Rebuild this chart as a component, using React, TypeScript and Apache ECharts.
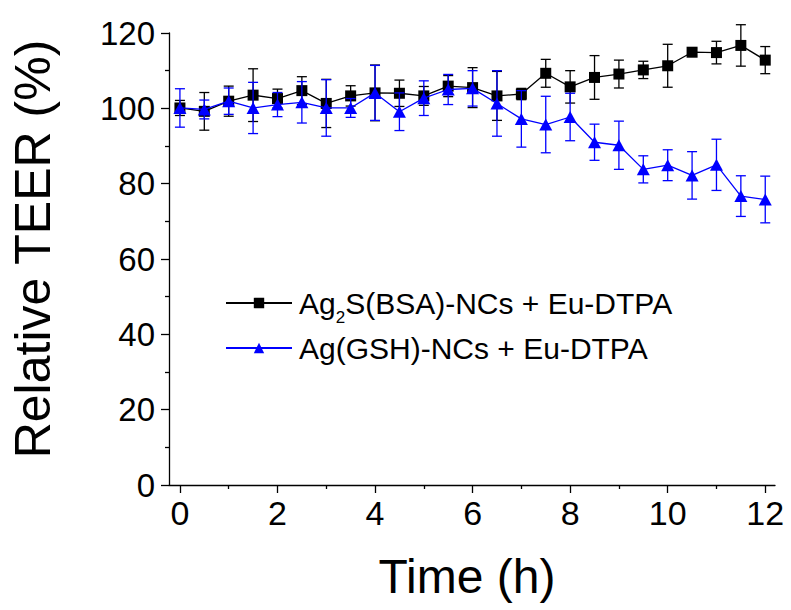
import React, { useEffect, useRef } from 'react';
import * as echarts from 'echarts';

// Time points (h)
const times = [0, 0.5, 1, 1.5, 2, 2.5, 3, 3.5, 4, 4.5, 5, 5.5, 6, 6.5, 7, 7.5, 8, 8.5, 9, 9.5, 10, 10.5, 11, 11.5, 12];

// Ag2S(BSA)-NCs + Eu-DTPA : relative TEER (%) and error
const bsaMean = [100.1, 99.2, 101.9, 103.5, 102.6, 104.7, 101.3, 103.3, 104.1, 104.0, 103.3, 105.9, 105.5, 103.3, 103.8, 109.3, 105.7, 108.2, 109.1, 110.2, 111.3, 114.9, 114.8, 116.7, 112.8];
const bsaErr = [2.0, 5.0, 4.0, 7.0, 2.5, 3.7, 6.4, 2.7, 7.4, 3.5, 2.5, 2.8, 5.3, 6.5, 1.5, 3.7, 4.3, 5.8, 3.7, 2.3, 5.7, 1.0, 3.0, 5.5, 3.6];

// Ag(GSH)-NCs + Eu-DTPA : relative TEER (%) and error
const gshMean = [100.1, 99.7, 101.9, 100.1, 101.0, 101.6, 100.1, 100.1, 104.1, 99.1, 102.7, 105.0, 105.3, 101.3, 97.2, 95.7, 97.7, 91.0, 90.2, 83.8, 84.9, 82.2, 85.0, 76.7, 75.8];
const gshErr = [5.1, 2.5, 3.5, 6.8, 3.2, 5.5, 7.5, 2.5, 7.3, 5.0, 4.6, 4.0, 4.7, 8.7, 7.5, 7.5, 6.3, 4.8, 6.4, 3.6, 4.1, 6.3, 6.8, 5.4, 6.2];

// Axis ticks
const xMajorTicks = [0, 2, 4, 6, 8, 10, 12];
const xMinorTicks = [1, 3, 5, 7, 9, 11];

const seriesNames = ['Ag2S(BSA)-NCs + Eu-DTPA', 'Ag(GSH)-NCs + Eu-DTPA'];
const BLACK = '#000000';
const BLUE = '#0000ff';
const FONT = '"Liberation Sans", Arial, sans-serif';

function errorBarRenderer(color: string) {
  return (_params: any, api: any) => {
    const x = api.value(0);
    const lo = api.coord([x, api.value(1)]);
    const hi = api.coord([x, api.value(2)]);
    const w = 5;
    const style = { stroke: color, lineWidth: 1.3, fill: 'none' };
    return {
      type: 'group',
      children: [
        { type: 'line', shape: { x1: lo[0], y1: lo[1], x2: hi[0], y2: hi[1] }, style },
        { type: 'line', shape: { x1: hi[0] - w, y1: hi[1], x2: hi[0] + w, y2: hi[1] }, style },
        { type: 'line', shape: { x1: lo[0] - w, y1: lo[1], x2: lo[0] + w, y2: lo[1] }, style },
      ],
    };
  };
}

export default function App() {
  const ref = useRef<HTMLDivElement>(null);

  useEffect(() => {
    if (!ref.current) return;
    const chart = echarts.init(ref.current, null, { renderer: 'svg' });

    const bsaLine = times.map((t, i) => [t, bsaMean[i]]);
    const gshLine = times.map((t, i) => [t, gshMean[i]]);
    const bsaBars = times.map((t, i) => [t, bsaMean[i] - bsaErr[i], bsaMean[i] + bsaErr[i]]);
    const gshBars = times.map((t, i) => [t, gshMean[i] - gshErr[i], gshMean[i] + gshErr[i]]);

    const legendCommon = {
      orient: 'vertical',
      left: 220,
      itemWidth: 66,
      itemHeight: 13,
      selectedMode: false,
      textStyle: {
        fontFamily: FONT,
        fontSize: 30,
        lineHeight: 34,
        color: '#000',
        padding: [0, 0, 0, 2],
        rich: {
          sub: { fontFamily: FONT, fontSize: 17, lineHeight: 17, padding: [29, 0, 0, 0], color: '#000' },
        },
      },
    };

    chart.setOption({
      animation: false,
      backgroundColor: '#ffffff',
      grid: { left: 165, right: 16, top: 33, bottom: 125, containLabel: false },
      legend: [
        {
          ...legendCommon,
          top: 275,
          data: [seriesNames[0]],
          formatter: () => 'Ag{sub|2}S(BSA)-NCs + Eu-DTPA',
        },
        {
          ...legendCommon,
          top: 326,
          data: [seriesNames[1]],
        },
      ],
      xAxis: [
        {
          type: 'value',
          min: -0.224,
          max: 12.2,
          position: 'bottom',
          name: 'Time (h)',
          nameLocation: 'middle',
          nameGap: 67,
          nameTextStyle: { fontFamily: FONT, fontSize: 48, color: '#000', padding: [0, 10, 0, 0] },
          axisLine: { show: true, onZero: false, lineStyle: { color: '#000', width: 1.3 } },
          axisTick: { show: true, inside: false, length: 8, customValues: xMajorTicks, lineStyle: { color: '#000', width: 1.3 } },
          axisLabel: { show: true, customValues: xMajorTicks, margin: 11, fontFamily: FONT, fontSize: 34, color: '#000' },
          splitLine: { show: false },
        },
        {
          type: 'value',
          min: -0.224,
          max: 12.2,
          position: 'bottom',
          offset: 0,
          axisLine: { show: false },
          axisTick: { show: true, inside: false, length: 4, customValues: xMinorTicks, lineStyle: { color: '#000', width: 1.3 } },
          axisLabel: { show: false },
          splitLine: { show: false },
        },
      ],
      yAxis: {
        type: 'value',
        min: 0,
        max: 120,
        interval: 20,
        name: 'Relative TEER (%)',
        nameLocation: 'middle',
        nameGap: 111,
        nameTextStyle: { fontFamily: FONT, fontSize: 50, color: '#000', padding: [0, 0, 0, 20] },
        axisLine: { show: true, onZero: false, lineStyle: { color: '#000', width: 1.3 } },
        axisTick: { show: true, inside: false, length: 8, lineStyle: { color: '#000', width: 1.3 } },
        minorTick: { show: true, splitNumber: 2, length: 4, lineStyle: { color: '#000', width: 1.3 } },
        axisLabel: { margin: 14, fontFamily: FONT, fontSize: 33, color: '#000', padding: [0, 0, 8, 0] },
        splitLine: { show: false },
        minorSplitLine: { show: false },
      },
      series: [
        {
          name: 'err-bsa',
          type: 'custom',
          xAxisIndex: 0,
          renderItem: errorBarRenderer(BLACK),
          encode: { x: 0, y: [1, 2] },
          data: bsaBars,
          clip: false,
          z: 1,
        },
        {
          name: seriesNames[0],
          type: 'line',
          xAxisIndex: 0,
          data: bsaLine,
          symbol: 'rect',
          symbolSize: 11,
          clip: false,
          color: BLACK,
          itemStyle: { color: BLACK },
          lineStyle: { color: BLACK, width: 1.3 },
          z: 2,
        },
        {
          name: 'err-gsh',
          type: 'custom',
          xAxisIndex: 0,
          renderItem: errorBarRenderer(BLUE),
          encode: { x: 0, y: [1, 2] },
          data: gshBars,
          clip: false,
          z: 3,
        },
        {
          name: seriesNames[1],
          type: 'line',
          xAxisIndex: 0,
          data: gshLine,
          symbol: 'triangle',
          symbolSize: [13, 12],
          clip: false,
          color: BLUE,
          itemStyle: { color: BLUE },
          lineStyle: { color: BLUE, width: 1.3 },
          z: 4,
        },
      ],
    });

    return () => chart.dispose();
  }, []);

  return <div ref={ref} style={{ position: 'absolute', left: 0, top: 0, width: 791, height: 610 }} />;
}
